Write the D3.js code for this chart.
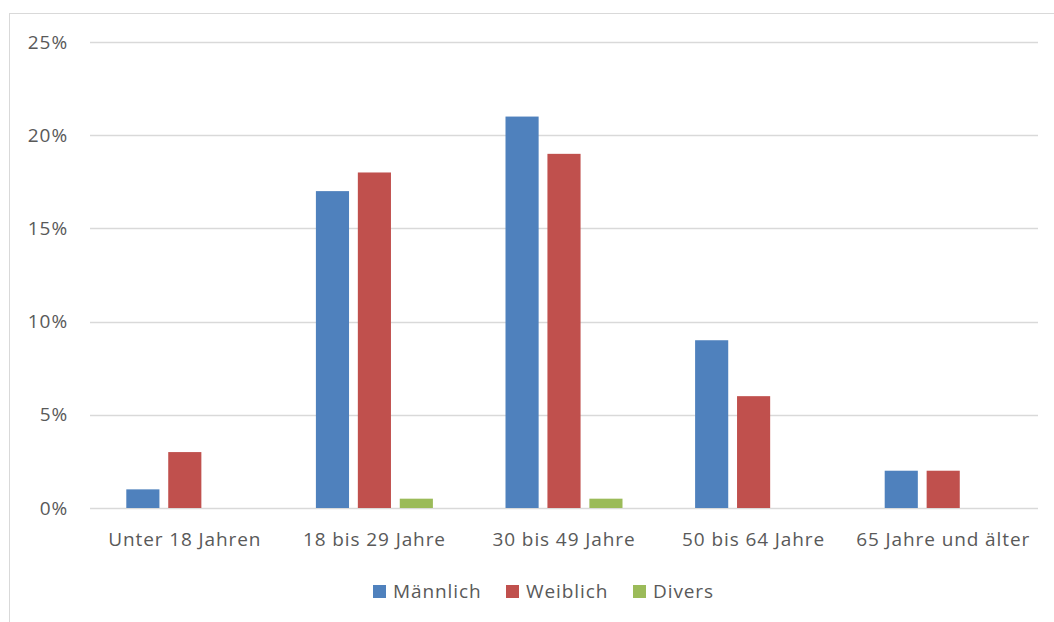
<!doctype html>
<html>
<head>
<meta charset="utf-8">
<script src="https://d3js.org/d3.v7.min.js"></script>
<style>
  body { margin: 0; background: #fff; }
  text { font-family: "Open Sans", "Noto Sans", sans-serif; fill: #595959; letter-spacing: 0.9px; }
</style>
</head>
<body>
<svg width="1054" height="622"></svg>
<script>
// data
var categories = ["Unter 18 Jahren", "18 bis 29 Jahre", "30 bis 49 Jahre", "50 bis 64 Jahre", "65 Jahre und älter"];
var seriesNames = ["Männlich", "Weiblich", "Divers"];
var maennlich = [1, 17, 21, 9, 2];
var weiblich = [3, 18, 19, 6, 2];
var divers = [0, 0.5, 0.5, 0, 0];
var yTicks = [0, 5, 10, 15, 20, 25];
var colors = ["#4F81BD", "#C0504D", "#9BBB59"];

var series = [maennlich, weiblich, divers];

var svg = d3.select("svg");

// chart frame
svg.append("rect")
   .attr("x", 9.5).attr("y", 13.5)
   .attr("width", 1100).attr("height", 700)
   .attr("fill", "none")
   .attr("stroke", "#d9d9d9");

var plotLeft = 90, plotRight = 1038, plotTop = 42, plotBottom = 508;

var x = d3.scaleBand().domain(categories).range([plotLeft, plotRight]);
var x1 = d3.scaleBand().domain(seriesNames).range([36.3, x.bandwidth() - 36.3]).paddingInner(0.21);
var y = d3.scaleLinear().domain([0, 25]).range([plotBottom, plotTop]);

// gridlines
svg.append("g").selectAll("line")
   .data(yTicks)
   .enter().append("line")
   .attr("x1", plotLeft).attr("x2", plotRight)
   .attr("y1", function(d) { return Math.round(y(d)) + 0.5; })
   .attr("y2", function(d) { return Math.round(y(d)) + 0.5; })
   .attr("stroke", "#d9d9d9")
   .attr("stroke-width", 1.3);

// y labels
svg.append("g").selectAll("text")
   .data(yTicks)
   .enter().append("text")
   .attr("x", 68)
   .attr("y", function(d) { return y(d); })
   .attr("dy", "0.35em")
   .attr("text-anchor", "end")
   .attr("font-size", "19px")
   .text(function(d) { return d + "%"; });

// bars
var groups = svg.append("g").selectAll("g")
   .data(series)
   .enter().append("g")
   .attr("fill", function(d, i) { return colors[i]; });

groups.selectAll("rect")
   .data(function(d, i) { return d.map(function(v, j) { return { s: seriesNames[i], c: categories[j], v: v }; }); })
   .enter().append("rect")
   .attr("x", function(d) { return x(d.c) + x1(d.s); })
   .attr("width", x1.bandwidth())
   .attr("y", function(d) { return y(d.v); })
   .attr("height", function(d) { return y(0) - y(d.v); });

// category labels
svg.append("g").selectAll("text")
   .data(categories)
   .enter().append("text")
   .attr("x", function(d) { return x(d) + x.bandwidth() / 2; })
   .attr("y", 539)
   .attr("dy", "0.35em")
   .attr("text-anchor", "middle")
   .attr("font-size", "19px")
   .text(function(d) { return d; });

// legend
var legendX = [373, 506, 633];
var legend = svg.append("g").selectAll("g")
   .data(seriesNames)
   .enter().append("g")
   .attr("transform", function(d, i) { return "translate(" + legendX[i] + ",585)"; });

legend.append("rect")
   .attr("width", 13).attr("height", 13)
   .attr("fill", function(d, i) { return colors[i]; });

legend.append("text")
   .attr("x", 20)
   .attr("y", 6.5)
   .attr("dy", "0.35em")
   .attr("font-size", "19px")
   .text(function(d) { return d; });
</script>
</body>
</html>
